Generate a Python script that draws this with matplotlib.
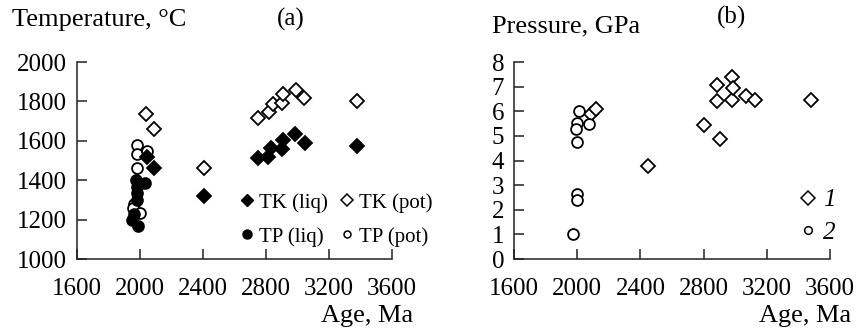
import matplotlib
matplotlib.use("Agg")
import matplotlib.pyplot as plt
from matplotlib.lines import Line2D

plt.rcParams['font.family'] = ['Liberation Serif', 'DejaVu Serif']
plt.rcParams['mathtext.fontset'] = 'stix'

# ---- Panel (a): Temperature vs Age ----
tk_liq_age = [2044, 2087, 2404, 2751, 2815, 2830, 2900, 2910, 2984, 3048, 3380]
tk_liq_t   = [1519, 1463, 1319, 1514, 1519, 1562, 1557, 1604, 1632, 1588, 1574]
tk_pot_age = [2038, 2087, 2408, 2751, 2821, 2842, 2900, 2910, 2989, 3041, 3376]
tk_pot_t   = [1735, 1662, 1460, 1716, 1745, 1788, 1792, 1838, 1858, 1815, 1800]
tp_liq_age = [1975, 1979, 2032, 1983, 1979, 1962, 1947, 1989]
tp_liq_t   = [1401, 1367, 1387, 1334, 1302, 1228, 1196, 1168]
tp_pot_age = [1983, 1979, 2046, 1979, 1960, 1956, 1998]
tp_pot_t   = [1579, 1535, 1550, 1462, 1279, 1257, 1231]

# ---- Panel (b): Pressure vs Age ----
p1_age = [2085, 2117, 2450, 2803, 2887, 2887, 2904, 2978, 2978, 2988, 3068, 3125, 3480]
p1_val = [5.88, 6.11, 3.77, 5.43, 7.08, 6.42, 4.89, 7.39, 6.47, 6.96, 6.61, 6.45, 6.47]
p2_age = [2013, 1997, 1992, 2077, 1997, 1997, 1997, 1976]
p2_val = [6.01, 5.53, 5.26, 5.47, 4.76, 2.62, 2.39, 1.00]

xticks = [1600, 2000, 2400, 2800, 3200, 3600]
yticks_a = [1000, 1200, 1400, 1600, 1800, 2000]
yticks_b = [0, 1, 2, 3, 4, 5, 6, 7, 8]

W, H = 858, 330
fig = plt.figure(figsize=(W / 100, H / 100), dpi=100)

def px_axes(x0, x1, ytop, ybot):
    return fig.add_axes([x0 / W, (H - ybot) / H, (x1 - x0) / W, (ybot - ytop) / H])

axa = px_axes(77, 392, 62, 259)
axb = px_axes(514, 830, 62, 259)

for ax in (axa, axb):
    for s in ('top', 'right'):
        ax.spines[s].set_visible(False)
    for s in ('left', 'bottom'):
        ax.spines[s].set_linewidth(1.1)
        ax.spines[s].set_color('#222222')
    ax.set_xlim(1600, 3600)
    ax.set_xticks(xticks)
    ax.tick_params(axis='both', direction='in', length=7, width=1.1, color='#222222',
                   labelsize=18)
    ax.tick_params(axis='x', pad=14)
    ax.tick_params(axis='y', pad=7)
    ax.set_facecolor('none')

ec = 'black'
axa.plot(tk_pot_age, tk_pot_t, 'D', ms=6.8, mfc='white', mec=ec, mew=1.3, ls='none', label='TK (pot)', zorder=3)
axa.plot(tk_liq_age, tk_liq_t, 'D', ms=6.8, mfc='black', mec=ec, mew=1.3, ls='none', label='TK (liq)', zorder=4)
axa.plot(tp_pot_age, tp_pot_t, 'o', ms=7.8, mfc='white', mec=ec, mew=1.3, ls='none', label='TP (pot)', zorder=3)
axa.plot(tp_liq_age, tp_liq_t, 'o', ms=7.8, mfc='black', mec=ec, mew=1.3, ls='none', label='TP (liq)', zorder=4)
axa.set_ylim(1000, 2000)
axa.set_yticks(yticks_a)

handles = [
    Line2D([], [], marker='D', ms=6.5, mfc='black', mec='black', ls='none'),
    Line2D([], [], marker='o', ms=6.5, mfc='black', mec='black', ls='none'),
    Line2D([], [], marker='D', ms=6.5, mfc='white', mec='black', mew=1.1, ls='none'),
    Line2D([], [], marker='o', ms=5.0, mfc='white', mec='black', mew=1.1, ls='none'),
]
labels = ['TK (liq)', 'TP (liq)', 'TK (pot)', 'TP (pot)']
fig.legend(handles, labels, ncol=2, loc='upper left',
           bbox_to_anchor=(240 / W, (H - 193) / H), frameon=False,
           fontsize=15, handlelength=0.7, handletextpad=0.2, columnspacing=0.6,
           labelspacing=0.68, borderpad=0, borderaxespad=0)

axb.plot(p1_age, p1_val, 'D', ms=7.5, mfc='white', mec=ec, mew=1.3, ls='none', zorder=3)
axb.plot(p2_age, p2_val, 'o', ms=7.8, mfc='white', mec=ec, mew=1.3, ls='none', zorder=3)
axb.set_ylim(0, 8)
axb.set_yticks(yticks_b)

hb = [Line2D([], [], marker='D', ms=7.0, mfc='white', mec='black', mew=1.1, ls='none'),
      Line2D([], [], marker='o', ms=5.5, mfc='white', mec='black', mew=1.1, ls='none')]
fig.legend(hb, ['1', '2'], loc='upper left', bbox_to_anchor=(799 / W, (H - 189) / H),
           frameon=False, prop={'size': 18, 'style': 'italic'},
           handlelength=0.7, handletextpad=0.25, labelspacing=0.4,
           borderpad=0, borderaxespad=0)

# titles / axis labels
fig.text(12 / W, 1 - 26 / H, 'Temperature, °C', fontsize=19, ha='left', va='baseline')
fig.text(291 / W, 1 - 26 / H, '(a)', fontsize=18, ha='center', va='baseline')
fig.text(413 / W, 1 - 322 / H, 'Age, Ma', fontsize=19, ha='right', va='baseline')
fig.text(492 / W, 1 - 32 / H, 'Pressure, GPa', fontsize=19, ha='left', va='baseline')
fig.text(732 / W, 1 - 24 / H, '(b)', fontsize=18, ha='center', va='baseline')
fig.text(851 / W, 1 - 322 / H, 'Age, Ma', fontsize=19, ha='right', va='baseline')

fig.savefig('out.png', dpi=100)
